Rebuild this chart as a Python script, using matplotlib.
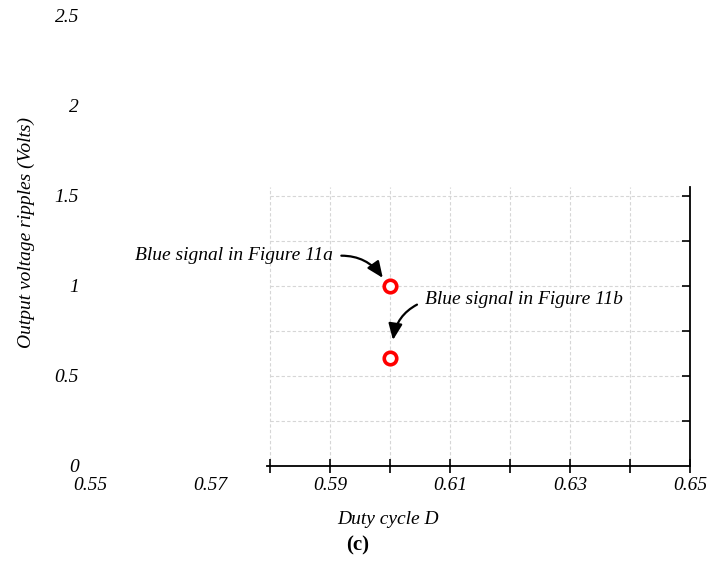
import matplotlib

matplotlib.use("Agg")
import matplotlib.pyplot as plt
from matplotlib.markers import TICKLEFT

# duty cycle vs measured output ripple
duty = [0.60, 0.60]
ripple = [1.0, 0.6]
notes = ["Blue signal in Figure 11a", "Blue signal in Figure 11b"]

xticks = [0.55, 0.57, 0.59, 0.61, 0.63, 0.65]
xticklabels = ["0.55", "0.57", "0.59", "0.61", "0.63", "0.65"]
yticks = [0, 0.5, 1, 1.5, 2, 2.5]
yticklabels = ["0", "0.5", "1", "1.5", "2", "2.5"]

# partial frame: grid/spine only span this box
grid_x = [0.58, 0.59, 0.60, 0.61, 0.62, 0.63, 0.64, 0.65]
grid_y = [0.25, 0.5, 0.75, 1.0, 1.25, 1.5]
x0, x1 = 0.58, 0.65
y_top = 1.55

plt.rcParams["font.family"] = "Liberation Serif"

fig = plt.figure(figsize=(7.09, 5.67), dpi=100)
ax = fig.add_axes([90 / 709, 101 / 567, 600 / 709, 450 / 567])
ax.set_xlim(0.55, 0.65)
ax.set_ylim(0, 2.5)
for s in ax.spines.values():
    s.set_visible(False)

grid_kw = dict(color="#d6d6d6", lw=0.8, ls=(0, (3, 2)), zorder=0)
ax.vlines(grid_x, 0, y_top, **grid_kw)
ax.hlines(grid_y, x0, x1, **grid_kw)

# bottom axis line with crossing ticks, right axis line with inward ticks
ax.plot([x0 - 0.0005, x1], [0, 0], color="k", lw=1.3, clip_on=False)
ax.plot(grid_x, [0] * len(grid_x), ls="none", marker="|", ms=10, mew=1.2,
        color="k", clip_on=False)
ax.plot([x1, x1], [0, y_top], color="k", lw=1.3, clip_on=False)
ax.plot([x1] * len(grid_y), grid_y, ls="none", marker=TICKLEFT, ms=5.5,
        mew=1.2, color="k", clip_on=False)

ax.set_xticks(xticks, xticklabels)
ax.set_yticks(yticks, yticklabels)
ax.tick_params(length=0, labelsize=14, pad=8)
for lab in ax.get_xticklabels() + ax.get_yticklabels():
    lab.set_fontstyle("italic")

ax.plot(duty, ripple, ls="none", marker="o", ms=9, mfc="white", mec="#ff0000",
        mew=2.6, zorder=5)

arrow = dict(arrowstyle="-|>,head_length=0.7,head_width=0.3", color="k", lw=1.6)
ax.annotate(notes[0], xy=(0.5988, 1.045), xytext=(0.5905, 1.17),
            ha="right", va="center", fontsize=14, style="italic",
            arrowprops=dict(arrow, connectionstyle="arc3,rad=-0.3",
                            relpos=(1.0, 0.45), shrinkA=4, shrinkB=0))
ax.annotate(notes[1], xy=(0.6005, 0.70), xytext=(0.6058, 0.925),
            ha="left", va="center", fontsize=14, style="italic",
            arrowprops=dict(arrow, connectionstyle="arc3,rad=0.3",
                            relpos=(0.0, 0.4), shrinkA=4, shrinkB=0))

fig.text(26 / 709, 1 - 233 / 567, "Output voltage ripples (Volts)", rotation=90,
         ha="center", va="center", fontsize=14, style="italic")
fig.text(388 / 709, 1 - 520 / 567, "Duty cycle D", ha="center", va="center",
         fontsize=14, style="italic")
fig.text(358 / 709, 1 - 545 / 567, "(c)", ha="center", va="center",
         fontsize=15, fontweight="bold")

fig.savefig("out.png", dpi=100)
